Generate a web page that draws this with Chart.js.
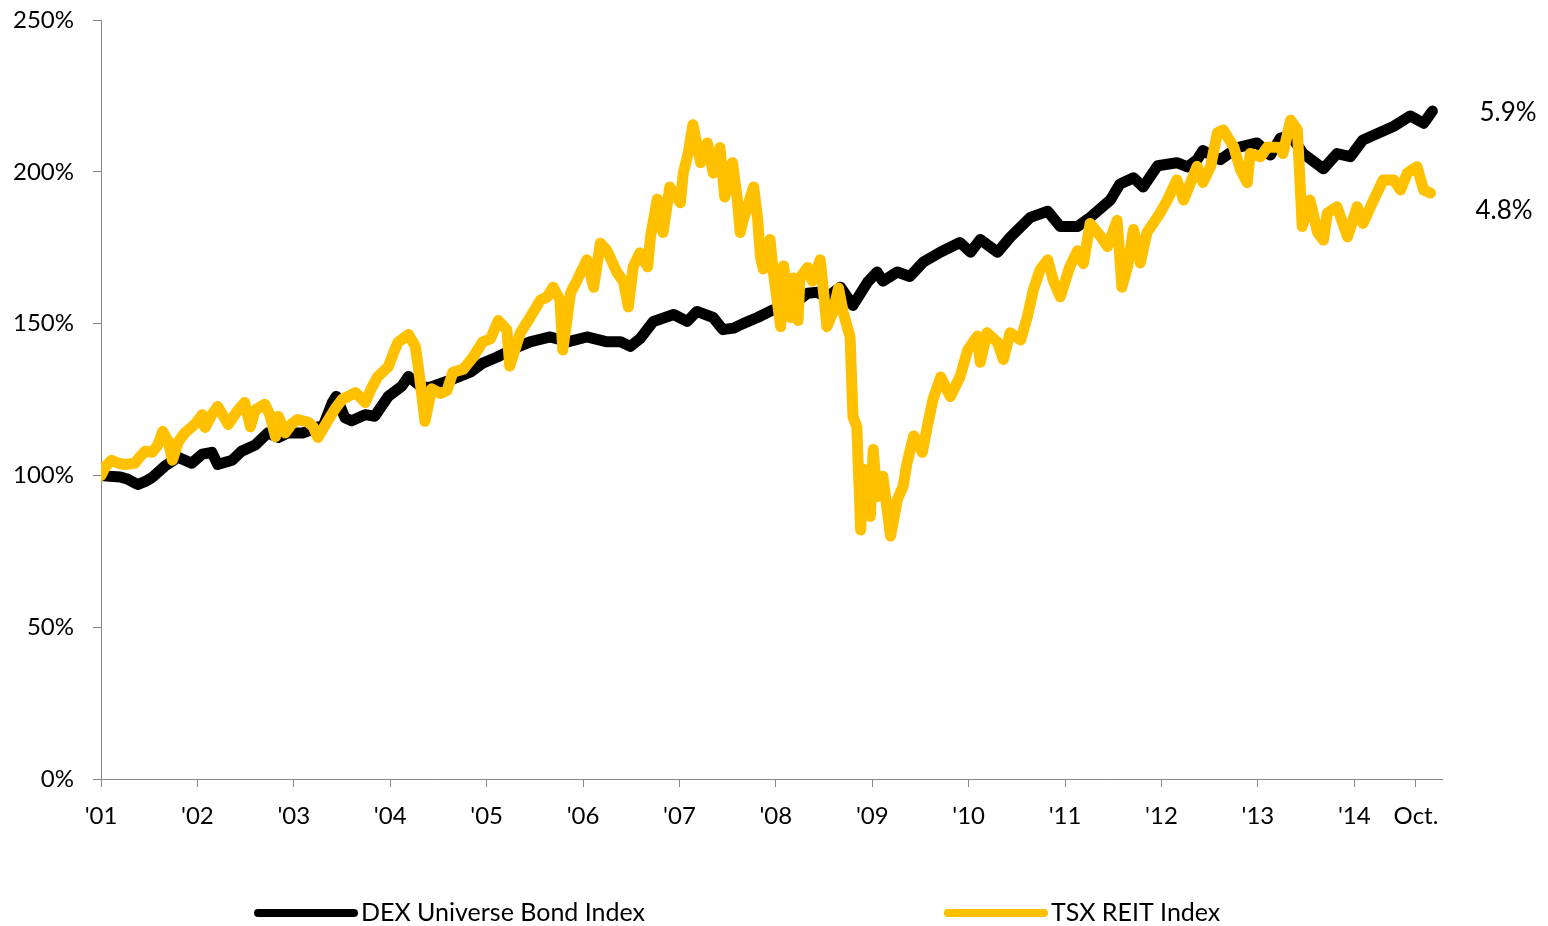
<!DOCTYPE html>
<html>
<head>
<meta charset="utf-8">
<title>DEX Universe Bond Index vs TSX REIT Index</title>
<script src="https://cdn.jsdelivr.net/npm/chart.js@4.4.1/dist/chart.umd.min.js"></script>
<style>
  html, body { margin: 0; padding: 0; background: #ffffff; }
  #wrap { position: relative; width: 1548px; height: 926px; }
</style>
</head>
<body>
<div id="wrap"><canvas id="chart"></canvas></div>
<script>
// Growth of 100% invested in Jan 2001 (dates as fractional years)
const bondDates = [2001.00, 2001.09, 2001.20, 2001.28, 2001.38, 2001.46, 2001.53, 2001.66, 2001.80, 2001.94,
  2002.05, 2002.15, 2002.21, 2002.36, 2002.46, 2002.60, 2002.73, 2002.84, 2002.94, 2003.09,
  2003.19, 2003.25, 2003.29, 2003.40, 2003.44, 2003.53, 2003.60, 2003.74, 2003.84, 2003.98,
  2004.12, 2004.19, 2004.33, 2004.41, 2004.59, 2004.83, 2004.96, 2005.11, 2005.30, 2005.45,
  2005.66, 2005.84, 2006.04, 2006.25, 2006.39, 2006.49, 2006.59, 2006.73, 2006.94, 2007.08,
  2007.18, 2007.35, 2007.45, 2007.56, 2007.66, 2007.81, 2007.97, 2008.15, 2008.33, 2008.43,
  2008.53, 2008.67, 2008.80, 2008.95, 2009.05, 2009.11, 2009.26, 2009.39, 2009.53, 2009.71,
  2009.91, 2010.02, 2010.12, 2010.30, 2010.43, 2010.64, 2010.82, 2010.95, 2011.13, 2011.26,
  2011.47, 2011.57, 2011.71, 2011.81, 2011.96, 2012.16, 2012.27, 2012.37, 2012.43, 2012.61,
  2012.79, 2012.99, 2013.13, 2013.23, 2013.34, 2013.47, 2013.68, 2013.82, 2013.96, 2014.09,
  2014.27, 2014.41, 2014.58, 2014.72, 2014.81];
const bondLevels = [100, 99.7, 99.5, 98.7, 97, 98, 99.3, 103, 106, 104,
  107, 107.6, 103.6, 105, 108, 110, 114, 112.5, 114, 114,
  115, 116, 115, 124, 126, 119, 118, 120, 119.5, 126,
  129.4, 132.6, 129, 129, 131, 134, 137, 139, 142, 144,
  145.6, 144, 145.6, 144, 144, 142.5, 145, 150.7, 153, 150.7,
  154, 152, 148, 148.5, 150, 152, 154.5, 155.6, 160, 160.3,
  158.6, 162, 156, 163.6, 167, 164, 167, 165.5, 170.3, 173.6,
  176.7, 173.5, 177.7, 173.5, 178.4, 185, 187, 182, 182, 185,
  190.7, 196, 198, 195, 202, 203, 201.6, 204, 207, 204,
  208, 209.5, 205.5, 211, 212, 206, 201, 206, 205, 210.5,
  213, 215, 218.4, 216, 220];

const reitDates = [2001.00, 2001.05, 2001.11, 2001.18, 2001.25, 2001.35, 2001.40, 2001.46, 2001.53, 2001.59,
  2001.64, 2001.70, 2001.74, 2001.80, 2001.87, 2001.98, 2002.05, 2002.08, 2002.15, 2002.21,
  2002.32, 2002.41, 2002.49, 2002.55, 2002.60, 2002.70, 2002.75, 2002.81, 2002.84, 2002.91,
  2002.98, 2003.04, 2003.15, 2003.20, 2003.25, 2003.36, 2003.43, 2003.50, 2003.64, 2003.74,
  2003.81, 2003.87, 2003.98, 2004.03, 2004.08, 2004.19, 2004.26, 2004.29, 2004.33, 2004.36,
  2004.43, 2004.52, 2004.59, 2004.65, 2004.76, 2004.86, 2004.96, 2005.04, 2005.12, 2005.21,
  2005.24, 2005.35, 2005.45, 2005.56, 2005.63, 2005.69, 2005.76, 2005.79, 2005.87, 2005.94,
  2006.04, 2006.11, 2006.18, 2006.25, 2006.35, 2006.42, 2006.47, 2006.52, 2006.59, 2006.67,
  2006.70, 2006.77, 2006.83, 2006.90, 2007.01, 2007.04, 2007.09, 2007.14, 2007.22, 2007.29,
  2007.35, 2007.42, 2007.47, 2007.55, 2007.60, 2007.63, 2007.66, 2007.77, 2007.81, 2007.84,
  2007.87, 2007.94, 2007.97, 2008.05, 2008.08, 2008.15, 2008.18, 2008.23, 2008.25, 2008.33,
  2008.38, 2008.46, 2008.49, 2008.53, 2008.59, 2008.65, 2008.70, 2008.77, 2008.80, 2008.84,
  2008.88, 2008.91, 2008.98, 2009.01, 2009.05, 2009.11, 2009.19, 2009.26, 2009.32, 2009.36,
  2009.43, 2009.52, 2009.57, 2009.63, 2009.71, 2009.81, 2009.91, 2009.99, 2010.09, 2010.12,
  2010.19, 2010.30, 2010.36, 2010.43, 2010.54, 2010.61, 2010.67, 2010.74, 2010.82, 2010.88,
  2010.95, 2011.05, 2011.13, 2011.19, 2011.26, 2011.37, 2011.44, 2011.54, 2011.59, 2011.65,
  2011.71, 2011.78, 2011.85, 2011.99, 2012.06, 2012.16, 2012.23, 2012.37, 2012.43, 2012.51,
  2012.58, 2012.64, 2012.75, 2012.82, 2012.89, 2012.92, 2013.03, 2013.10, 2013.23, 2013.26,
  2013.34, 2013.41, 2013.46, 2013.54, 2013.62, 2013.68, 2013.72, 2013.82, 2013.93, 2014.03,
  2014.09, 2014.20, 2014.30, 2014.41, 2014.48, 2014.55, 2014.65, 2014.72, 2014.79];
const reitLevels = [100, 103, 105, 104, 103.6, 104, 106, 108, 107.6, 110,
  114.5, 111, 105, 111, 114, 117, 120, 115.8, 120, 122.7,
  116.8, 121, 124, 116, 121.6, 123.4, 120, 112.8, 119.4, 114,
  117, 118.4, 117.5, 116, 112.5, 118.4, 122, 125, 127.3, 124,
  129, 132.5, 135.8, 140, 143.8, 146.4, 142.5, 136, 126, 117.8,
  128.5, 127, 128, 134, 135, 139, 144, 145, 151, 148,
  136, 147, 152, 157.8, 158.8, 162, 157.8, 141.3, 160, 164.4,
  171, 162, 176.5, 174, 167, 163.8, 155.5, 168.7, 173.3, 168.7,
  178.6, 191, 180, 195, 189.8, 199.6, 206, 215.5, 203, 209.5,
  199.6, 208, 191.7, 203, 191, 180, 184, 195, 185, 172,
  168, 177.7, 168, 149, 169, 152, 165, 151, 165, 168.5,
  164, 171, 162, 149, 153.5, 161.7, 153.5, 145.6, 119.4, 116,
  82, 102, 86.5, 108.5, 93, 99.7, 80, 92, 96.4, 104,
  113, 107.6, 116, 125, 132.4, 126, 132.4, 141.3, 145.9, 137.3,
  147, 143.8, 138.2, 147, 144.6, 152.4, 161, 167.7, 171, 164,
  158.8, 168.8, 174, 169.8, 183, 178.7, 175.4, 184, 162, 169,
  181, 170, 180, 186.6, 190.7, 197.3, 190.7, 201.8, 196.5, 201.8,
  212.8, 213.8, 208.2, 200.6, 196.4, 206, 205, 208.2, 208, 206,
  217, 213.8, 182, 190.7, 180, 177.5, 186.4, 188.5, 178.6, 188.5,
  183, 190.7, 197.3, 197.3, 194, 199.6, 201.7, 194, 193];

// Axis ticks
const xTickDates = [2001, 2002, 2003, 2004, 2005, 2006, 2007, 2008, 2009, 2010, 2011, 2012, 2013, 2014, 2014.64];
const xTickLabels = ["'01", "'02", "'03", "'04", "'05", "'06", "'07", "'08", "'09", "'10", "'11", "'12", "'13", "'14", "Oct."];
const yTicks = [0, 50, 100, 150, 200, 250];

// Series names, colours and annualised returns
const seriesNames = ['DEX Universe Bond Index', 'TSX REIT Index'];
const seriesColors = ['#000000', '#FFC000'];
const annualReturns = ['5.9%', '4.8%'];

const FONT = 'Lato, "Open Sans", "DejaVu Sans", sans-serif';
const AXIS_GREY = '#868686';

const toPoints = (xs, ys) => xs.map((x, i) => ({ x: x, y: ys[i] }));

// Draws the bottom key and the return labels at the right of the plot
const annotations = {
  id: 'annotations',
  afterDraw(chart, args, opts) {
    const ctx = chart.ctx;
    ctx.save();
    ctx.textBaseline = 'middle';
    ctx.fillStyle = '#000';
    // key
    ctx.font = '25px ' + FONT;
    opts.keyItems.forEach((item, i) => {
      ctx.strokeStyle = seriesColors[i];
      ctx.lineWidth = 8;
      ctx.lineCap = 'round';
      ctx.beginPath();
      ctx.moveTo(item.x, opts.keyY);
      ctx.lineTo(item.x + opts.keyLine, opts.keyY);
      ctx.stroke();
      ctx.textAlign = 'left';
      ctx.fillText(seriesNames[i], item.x + opts.keyLine + 7, opts.keyY);
    });
    // returns
    ctx.font = '26px ' + FONT;
    ctx.textAlign = 'center';
    const ys = chart.scales.y;
    opts.returnLabels.forEach((lab, i) => {
      ctx.fillText(annualReturns[i], lab.x, ys.getPixelForValue(lab.level));
    });
    ctx.restore();
  }
};

new Chart(document.getElementById('chart'), {
  type: 'line',
  data: {
    datasets: [
      {
        label: seriesNames[0],
        data: toPoints(bondDates, bondLevels),
        borderColor: seriesColors[0],
        borderWidth: 11,
        order: 1
      },
      {
        label: seriesNames[1],
        data: toPoints(reitDates, reitLevels),
        borderColor: seriesColors[1],
        borderWidth: 11,
        order: 0
      }
    ]
  },
  options: {
    responsive: true,
    maintainAspectRatio: false,
    animation: false,
    parsing: false,
    elements: {
      point: { radius: 0, hoverRadius: 0 },
      line: { tension: 0, borderJoinStyle: 'round', borderCapStyle: 'round', fill: false }
    },
    layout: { padding: { top: 20, right: 106, left: 0, bottom: 0 } },
    plugins: {
      legend: { display: false },
      tooltip: { enabled: false },
      annotations: {
        keyY: 913,
        keyLine: 96,
        keyItems: [{ x: 258 }, { x: 948 }],
        returnLabels: [{ x: 1508, level: 219.5 }, { x: 1504, level: 187.3 }]
      }
    },
    scales: {
      x: {
        type: 'linear',
        min: 2001,
        max: 2014.91,
        afterBuildTicks(scale) {
          scale.ticks = xTickDates.map(v => ({ value: v }));
        },
        afterFit(scale) { scale.height = 147; },
        ticks: {
          autoSkip: false,
          maxRotation: 0,
          padding: 15,
          color: '#000',
          font: { family: FONT, size: 24 },
          callback: (v, i) => xTickLabels[i]
        },
        grid: { display: true, drawOnChartArea: false, drawTicks: true, tickLength: 8, color: AXIS_GREY },
        border: { display: true, color: AXIS_GREY, width: 1 }
      },
      y: {
        min: 0,
        max: 250,
        afterBuildTicks(scale) {
          scale.ticks = yTicks.map(v => ({ value: v }));
        },
        afterFit(scale) {
          scale.width = 101;
          scale.paddingTop = 0;
          scale.paddingBottom = 0;
        },
        ticks: {
          padding: 19,
          color: '#000',
          font: { family: FONT, size: 24 },
          callback: v => v + '%'
        },
        grid: { display: true, drawOnChartArea: false, drawTicks: true, tickLength: 8, color: AXIS_GREY },
        border: { display: true, color: AXIS_GREY, width: 1 }
      }
    }
  },
  plugins: [annotations]
});
</script>
</body>
</html>
